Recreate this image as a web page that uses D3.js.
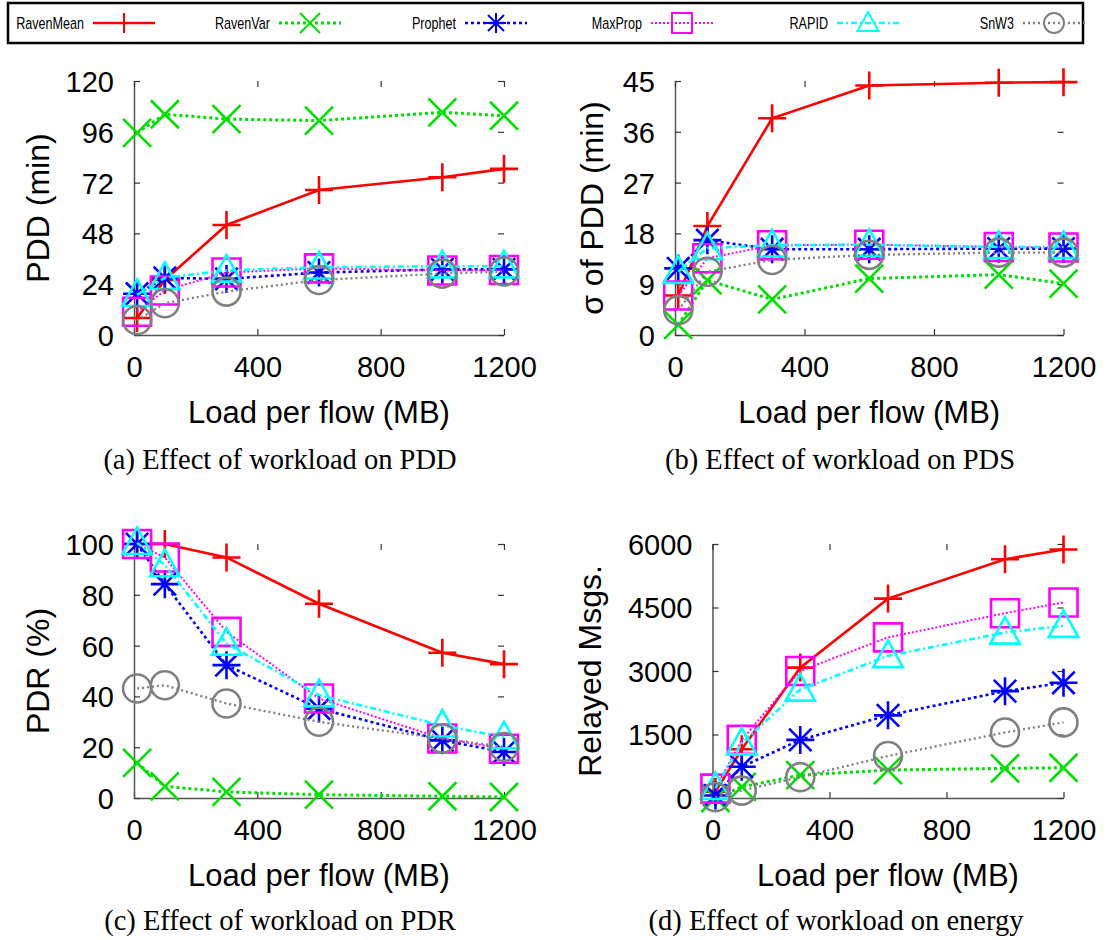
<!DOCTYPE html>
<html>
<head>
<meta charset="utf-8">
<script src="https://cdn.jsdelivr.net/npm/d3@7"></script>
<style>
  html, body { margin: 0; padding: 0; background: #fff; }
  svg { display: block; }
</style>
</head>
<body>
<svg id="chart" width="1107" height="940"></svg>
<script>
// ---------------- DATA ----------------
const loads = [10, 100, 300, 600, 1000, 1200];
const seriesNames = ["RavenMean", "RavenVar", "Prophet", "MaxProp", "RAPID", "SnW3"];
const xTicks = [0, 400, 800, 1200];

// (a) PDD (min)
const pddRavenMean = [8, 26, 52, 68.5, 74.5, 78.5];
const pddRavenVar  = [95.5, 104.3, 102, 101.3, 105.2, 103.6];
const pddProphet   = [19.5, 27, 26.5, 29.5, 31, 31];
const pddMaxProp   = [11, 21, 29.5, 31.5, 30.5, 30.7];
const pddRAPID     = [19, 27, 30.5, 32, 32.5, 32.5];
const pddSnW3      = [7, 15, 20.5, 26, 29, 30];
const pddTicks = [0, 24, 48, 72, 96, 120];

// (b) sigma of PDD (min)
const pdsRavenMean = [7, 19.3, 38.4, 44.2, 44.7, 44.8];
const pdsRavenVar  = [1.8, 9.7, 6.3, 10, 10.7, 9.1];
const pdsProphet   = [11.8, 16.8, 15.2, 15.2, 15.3, 15.3];
const pdsMaxProp   = [7, 13.6, 15.9, 16, 15.6, 15.5];
const pdsRAPID     = [11.2, 15.4, 15.9, 16, 15.6, 15.6];
const pdsSnW3      = [4.4, 11.2, 13.3, 14.2, 14.6, 14.6];
const pdsTicks = [0, 9, 18, 27, 36, 45];

// (c) PDR (%)
const pdrRavenMean = [100, 100, 94.7, 76.5, 57.2, 52.7];
const pdrRavenVar  = [13.8, 4.6, 2.4, 1.3, 0.7, 0.4];
const pdrProphet   = [100, 84.2, 52.3, 35.2, 22.7, 18.1];
const pdrMaxProp   = [100, 94.7, 65.4, 39.2, 23.4, 19.4];
const pdrRAPID     = [100.5, 91.7, 60.8, 40.5, 28.6, 24];
const pdrSnW3      = [43.1, 44.4, 37.2, 30, 23.4, 20.1];
const pdrTicks = [0, 20, 40, 60, 80, 100];

// (d) Relayed Msgs.
const msgRavenMean = [150, 1150, 3080, 4710, 5640, 5870];
const msgRavenVar  = [0, 262, 540, 660, 700, 714];
const msgProphet   = [60, 738, 1373, 1952, 2524, 2722];
const msgMaxProp   = [222, 1373, 3000, 3794, 4365, 4619];
const msgRAPID     = [240, 1294, 2564, 3357, 3912, 4071];
const msgSnW3      = [20, 175, 492, 992, 1548, 1786];
const msgTicks = [0, 1500, 3000, 4500, 6000];

// ---------------- STYLE / LAYOUT ----------------
const styles = {
  RavenMean: { color: "#ff0000", dash: null,        width: 2.6, marker: "plus" },
  RavenVar:  { color: "#00e000", dash: "3,3",       width: 3,   marker: "cross" },
  Prophet:   { color: "#0000ff", dash: "3,3",       width: 2.6, marker: "star" },
  MaxProp:   { color: "#ff00ff", dash: "2,2",       width: 2,   marker: "square" },
  RAPID:     { color: "#00ffff", dash: "6,3,2,3",   width: 2.6, marker: "triangle" },
  SnW3:      { color: "#808080", dash: "2,3",       width: 2.4, marker: "circle" }
};

const panels = [
  { x0: 134, x1: 504,    y0: 335, y1: 81,  yMax: 120,  yTicks: pddTicks, ytitle: "PDD (min)",       ytx: 49,  capX: 280, capY: 469, caption: "(a) Effect of workload on PDD",
    data: [pddRavenMean, pddRavenVar, pddProphet, pddMaxProp, pddRAPID, pddSnW3] },
  { x0: 675, x1: 1063.5, y0: 335, y1: 81,  yMax: 45,   yTicks: pdsTicks, ytitle: "σ of PDD (min)",  ytx: 603, capX: 840, capY: 469, caption: "(b) Effect of workload on PDS",
    data: [pdsRavenMean, pdsRavenVar, pdsProphet, pdsMaxProp, pdsRAPID, pdsSnW3] },
  { x0: 134, x1: 504,    y0: 798, y1: 544, yMax: 100,  yTicks: pdrTicks, ytitle: "PDR (%)",         ytx: 49,  capX: 280, capY: 930, caption: "(c) Effect of workload on PDR",
    data: [pdrRavenMean, pdrRavenVar, pdrProphet, pdrMaxProp, pdrRAPID, pdrSnW3] },
  { x0: 712.5, x1: 1063.5, y0: 798, y1: 544, yMax: 6000, yTicks: msgTicks, ytitle: "Relayed Msgs.", ytx: 601, capX: 836, capY: 930, caption: "(d) Effect of workload on energy",
    data: [msgRavenMean, msgRavenVar, msgProphet, msgMaxProp, msgRAPID, msgSnW3] }
];

const SANS = "'Liberation Sans', Arial, Helvetica, sans-serif";
const SERIF = "'Liberation Serif', 'Times New Roman', serif";
const MS = 14; // marker half-size
const fmt = d3.format("d");

function markerPath(type, s) {
  const p = d3.path();
  if (type === "plus" || type === "star") {
    p.moveTo(-s, 0); p.lineTo(s, 0); p.moveTo(0, -s); p.lineTo(0, s);
  }
  if (type === "cross" || type === "star") {
    const k = type === "star" ? s * 0.8 : s;
    p.moveTo(-k, -k); p.lineTo(k, k); p.moveTo(-k, k); p.lineTo(k, -k);
  }
  if (type === "square") {
    p.rect(-s, -s, 2 * s, 2 * s);
  }
  if (type === "triangle") {
    p.moveTo(0, -s * 1.1); p.lineTo(s * 1.05, s * 0.8); p.lineTo(-s * 1.05, s * 0.8); p.closePath();
  }
  if (type === "circle") {
    p.moveTo(s, 0); p.arc(0, 0, s, 0, 2 * Math.PI);
  }
  return p.toString();
}

const svg = d3.select("#chart");

// ---------------- PANELS ----------------
panels.forEach(P => {
  const g = svg.append("g");
  const x = d3.scaleLinear().domain([0, 1200]).range([P.x0, P.x1]);
  const y = d3.scaleLinear().domain([0, P.yMax]).range([P.y0, P.y1]);

  const xb = g.append("g").attr("transform", `translate(0,${P.y0})`)
    .call(d3.axisBottom(x).tickValues(xTicks).tickFormat(fmt).tickSizeInner(-6).tickSizeOuter(0).tickPadding(17));
  const yl = g.append("g").attr("transform", `translate(${P.x0},0)`)
    .call(d3.axisLeft(y).tickValues(P.yTicks).tickFormat(fmt).tickSizeInner(-6).tickSizeOuter(0).tickPadding(20));
  const xt = g.append("g").attr("transform", `translate(0,${P.y1})`)
    .call(d3.axisTop(x).tickValues(xTicks).tickSizeInner(-6).tickSizeOuter(0).tickFormat(""));
  const yr = g.append("g").attr("transform", `translate(${P.x1},0)`)
    .call(d3.axisRight(y).tickValues(P.yTicks).tickSizeInner(-6).tickSizeOuter(0).tickFormat(""));

  [xt, yr].forEach(a => a.select(".domain").remove());
  [xb, yl, xt, yr].forEach(a => {
    a.selectAll(".domain").attr("stroke", "#555").attr("stroke-width", 1.5);
    a.selectAll(".tick line").attr("stroke", "#333").attr("stroke-width", 1.2);
    a.selectAll("text").attr("fill", "#000").style("font-family", SANS).style("font-size", "29px");
  });
  xb.selectAll("text").attr("dy", null).attr("y", 42);
  yl.selectAll("text").attr("dy", "0.36em");

  // axis titles
  g.append("text")
    .attr("x", (P.x0 + P.x1) / 2).attr("y", P.y0 + 88)
    .attr("text-anchor", "middle")
    .style("font-family", SANS).style("font-size", "31px")
    .text("Load per flow (MB)");
  g.append("text")
    .attr("transform", `translate(${P.ytx},${(P.y0 + P.y1) / 2}) rotate(-90)`)
    .attr("text-anchor", "middle")
    .style("font-family", SANS).style("font-size", "32px")
    .text(P.ytitle);

  // caption
  g.append("text")
    .attr("x", P.capX).attr("y", P.capY)
    .attr("text-anchor", "middle")
    .style("font-family", SERIF).style("font-size", "28.5px")
    .text(P.caption);

  // series
  const line = d3.line().x((d, i) => x(loads[i])).y(d => y(d));
  seriesNames.forEach((name, si) => {
    const st = styles[name];
    const vals = P.data[si];
    g.append("path")
      .attr("d", line(vals))
      .attr("fill", "none")
      .attr("stroke", st.color)
      .attr("stroke-width", st.width)
      .attr("stroke-dasharray", st.dash);
    g.selectAll(null).data(vals).enter().append("path")
      .attr("transform", (d, i) => `translate(${x(loads[i])},${y(d)})`)
      .attr("d", markerPath(st.marker, MS))
      .attr("fill", "none")
      .attr("stroke", st.color)
      .attr("stroke-width", 2.6);
  });
});

// ---------------- LEGEND ----------------
const leg = svg.append("g");
leg.append("rect").attr("x", 8).attr("y", 3).attr("width", 1075).attr("height", 40)
  .attr("fill", "#fff").attr("stroke", "#000").attr("stroke-width", 2.5);
const colW = 186, mark0 = 124;
seriesNames.forEach((name, i) => {
  const st = styles[name];
  const mc = mark0 + colW * i;
  const t = leg.append("text").attr("x", mc - 40).attr("y", 29).attr("text-anchor", "end")
    .style("font-family", SANS).style("font-size", "17px").text(name);
  const w = t.node().getComputedTextLength();
  t.attr("textLength", w * 0.74).attr("lengthAdjust", "spacingAndGlyphs");
  leg.append("line").attr("x1", mc - 31).attr("x2", mc + 31).attr("y1", 23).attr("y2", 23)
    .attr("stroke", st.color).attr("stroke-width", st.width).attr("stroke-dasharray", st.dash);
  leg.append("path").attr("transform", `translate(${mc},23)`)
    .attr("d", markerPath(st.marker, 10)).attr("fill", "none")
    .attr("stroke", st.color).attr("stroke-width", 2);
});
</script>
</body>
</html>
